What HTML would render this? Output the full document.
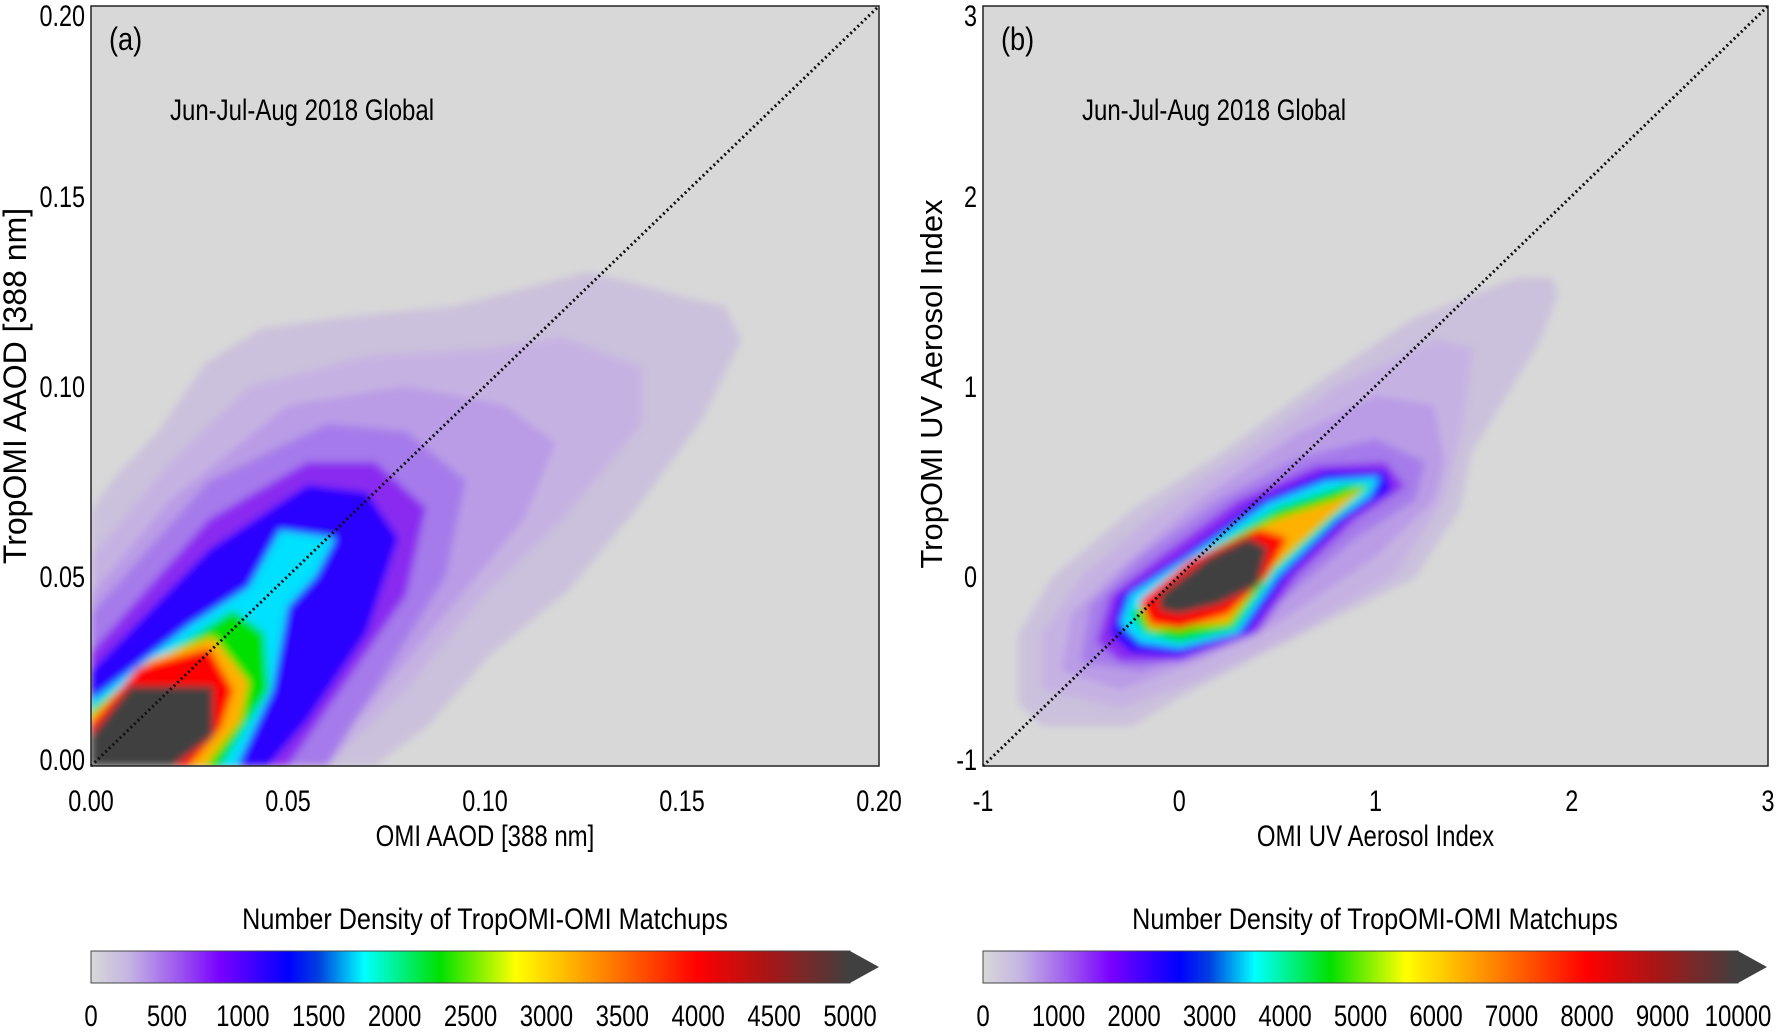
<!DOCTYPE html>
<html><head><meta charset="utf-8"><style>
html,body{margin:0;padding:0;background:#fff;}
svg{display:block;font-family:"Liberation Sans",sans-serif;}
</style></head><body>
<svg id="fig" width="1776" height="1032" viewBox="0 0 1776 1032" xmlns="http://www.w3.org/2000/svg">
<defs>
<filter id="blurA" x="-5%" y="-5%" width="110%" height="110%"><feGaussianBlur stdDeviation="4"/></filter>
<clipPath id="clipA"><rect x="91" y="6" width="788" height="760"/></clipPath>
<clipPath id="clipB"><rect x="983" y="6" width="785" height="760"/></clipPath>
<linearGradient id="cbgrad" x1="0" x2="1" y1="0" y2="0">
<stop offset="0" stop-color="#d8d8d8"/><stop offset="0.05" stop-color="#c4b4e2"/><stop offset="0.12" stop-color="#9a50f0"/><stop offset="0.17" stop-color="#7a00ff"/><stop offset="0.26" stop-color="#0000ff"/><stop offset="0.3" stop-color="#0040e0"/><stop offset="0.36" stop-color="#00ffff"/><stop offset="0.46" stop-color="#00e000"/><stop offset="0.56" stop-color="#ffff00"/><stop offset="0.68" stop-color="#ff8000"/><stop offset="0.8" stop-color="#ff0000"/><stop offset="0.9" stop-color="#a01818"/><stop offset="1" stop-color="#404040"/>
</linearGradient>
</defs>
<g id="root"></g>
</svg>
<script>
const NS="http://www.w3.org/2000/svg";
const levelColors=['#cbc1dc','#c6b2e2','#b99be6','#a57aea','#8a2cf0','#2a00ff','#00e0ff','#00e000','#ffb000','#ff0000','#404040'];
const contoursA=[
[[0,0.067],[0.006,0.076],[0.017,0.088],[0.029,0.106],[0.043,0.115],[0.063,0.118],[0.092,0.121],[0.115,0.127],[0.126,0.130],[0.138,0.127],[0.152,0.123],[0.161,0.121],[0.165,0.112],[0.155,0.091],[0.138,0.067],[0.121,0.046],[0.101,0.029],[0.086,0.011],[0.072,0],[0,0]],
[[0,0.055],[0.02,0.08],[0.04,0.1],[0.07,0.108],[0.1,0.11],[0.12,0.113],[0.14,0.105],[0.14,0.09],[0.12,0.065],[0.1,0.045],[0.08,0.02],[0.06,0],[0,0]],
[[0,0.045],[0.02,0.07],[0.05,0.095],[0.08,0.1],[0.105,0.095],[0.118,0.085],[0.11,0.065],[0.09,0.04],[0.07,0.015],[0.055,0],[0,0]],
[[0,0.04],[0.03,0.075],[0.06,0.09],[0.08,0.088],[0.095,0.075],[0.09,0.05],[0.075,0.025],[0.06,0],[0,0]],
[[0,0.03],[0.03,0.065],[0.055,0.08],[0.072,0.08],[0.085,0.068],[0.08,0.045],[0.06,0.015],[0.05,0],[0,0]],
[[0,0.025],[0.03,0.057],[0.055,0.074],[0.07,0.072],[0.078,0.06],[0.07,0.035],[0.055,0.012],[0.045,0],[0,0]],
[[0,0.017],[0.025,0.037],[0.04,0.047],[0.048,0.062],[0.062,0.06],[0.057,0.05],[0.05,0.042],[0.046,0.02],[0.037,0],[0,0]],
[[0,0.015],[0.02,0.03],[0.036,0.041],[0.044,0.035],[0.045,0.02],[0.033,0],[0,0]],
[[0,0.013],[0.015,0.028],[0.031,0.034],[0.04,0.022],[0.038,0.012],[0.029,0],[0,0]],
[[0,0.011],[0.012,0.026],[0.03,0.031],[0.036,0.02],[0.033,0.01],[0.025,0],[0,0]],
[[0,0.008],[0.01,0.021],[0.031,0.021],[0.031,0.008],[0.021,0],[0,0]]
];
const contoursB=[
[[-0.82,-0.67],[-0.82,-0.31],[-0.65,-0.01],[-0.24,0.35],[0.22,0.65],[0.68,1.0],[1.2,1.36],[1.72,1.57],[1.9,1.57],[1.93,1.48],[1.84,1.24],[1.49,0.65],[1.43,0.35],[1.2,-0.01],[0.62,-0.31],[0.05,-0.61],[-0.24,-0.79],[-0.7,-0.79]],
[[-0.7,-0.6],[-0.7,-0.3],[-0.5,0],[-0.1,0.35],[0.4,0.7],[0.8,1.0],[1.3,1.25],[1.5,1.2],[1.45,0.8],[1.35,0.4],[1.1,0],[0.6,-0.3],[0.1,-0.55],[-0.3,-0.7]],
[[-0.6,-0.5],[-0.55,-0.2],[-0.3,0.05],[0.1,0.4],[0.6,0.75],[1.0,0.95],[1.3,0.9],[1.35,0.6],[1.3,0.4],[1.0,0.1],[0.5,-0.25],[0.1,-0.45],[-0.3,-0.6]],
[[-0.5,-0.45],[-0.45,-0.15],[-0.2,0.1],[0.2,0.4],[0.6,0.62],[1.0,0.72],[1.25,0.6],[1.2,0.4],[0.9,0.2],[0.5,-0.15],[0.1,-0.4],[-0.2,-0.5]],
[[-0.42,-0.35],[-0.35,-0.1],[-0.1,0.1],[0.3,0.4],[0.7,0.58],[1.05,0.6],[1.15,0.47],[0.9,0.3],[0.6,0],[0.4,-0.3],[0.0,-0.45],[-0.3,-0.45]],
[[-0.35,-0.3],[-0.3,-0.1],[0,0.1],[0.4,0.4],[0.75,0.55],[1.05,0.55],[1.08,0.45],[0.85,0.3],[0.55,0],[0.35,-0.3],[0,-0.42],[-0.25,-0.4]],
[[-0.3,-0.25],[-0.25,-0.1],[0.05,0.1],[0.45,0.38],[0.75,0.5],[1.02,0.52],[0.97,0.42],[0.8,0.3],[0.5,0],[0.3,-0.3],[0,-0.38],[-0.2,-0.35]],
[[-0.25,-0.2],[0.1,0.1],[0.5,0.36],[0.85,0.48],[0.98,0.48],[0.8,0.32],[0.48,0.02],[0.28,-0.28],[0,-0.35],[-0.18,-0.3]],
[[-0.2,-0.15],[0.1,0.1],[0.5,0.3],[0.8,0.4],[0.95,0.47],[0.75,0.3],[0.45,0.02],[0.25,-0.25],[-0.15,-0.28]],
[[-0.2,-0.13],[0.05,0.08],[0.4,0.25],[0.55,0.2],[0.45,0],[0.25,-0.2],[0,-0.28],[-0.15,-0.25]],
[[-0.1,-0.1],[0.15,0.1],[0.35,0.2],[0.45,0.15],[0.4,-0.05],[0.2,-0.15],[0,-0.2],[-0.1,-0.18]]
];
const ticksA=['0.00','0.05','0.10','0.15','0.20'];
const ticksAval=[0,0.05,0.1,0.15,0.2];
const ticksB=['-1','0','1','2','3'];
const ticksBval=[-1,0,1,2,3];
const cbLabelsA=['0','500','1000','1500','2000','2500','3000','3500','4000','4500','5000'];
const cbLabelsB=['0','1000','2000','3000','4000','5000','6000','7000','8000','9000','10000'];

const root=document.getElementById('root');
function el(tag,attrs,parent){const e=document.createElementNS(NS,tag);for(const k in attrs)e.setAttribute(k,attrs[k]);(parent||root).appendChild(e);return e;}
function txt(s,x,y,size,anchor,parent,sx){const g=el('g',{transform:`translate(${x},${y}) scale(${sx||0.78},1)`},parent);const t=el('text',{x:0,y:0,'font-size':size,'text-anchor':anchor||'middle',fill:'#000'},g);t.textContent=s;return g;}

function panel(cfg){
  const {x0,x1,y0,y1,min,max,contours,ticks,tickv,label,xtitle,ytitle,name}=cfg;
  const sx=v=>x0+(v-min)/(max-min)*(x1-x0);
  const sy=v=>y1-(v-min)/(max-min)*(y1-y0);
  const g=el('g',{});
  
  
  const bg=el('rect',{x:x0,y:y0,width:x1-x0,height:y1-y0,fill:'#d8d8d8'},g);
  
  
  const cg=el('g',{'clip-path':`url(#${cfg.clip})`},g);
  const bl=el('g',{filter:'url(#blurA)'},cg);
  contours.forEach((poly,i)=>{
    const p=el('polygon',{points:poly.map(q=>sx(q[0]).toFixed(1)+','+sy(q[1]).toFixed(1)).join(' '),fill:levelColors[i]},bl);
    
    
  });
  const d=el('line',{x1:sx(min),y1:sy(min),x2:sx(max),y2:sy(max),stroke:'#111','stroke-width':3,'stroke-dasharray':'2,3'},g);
  
  
  const fr=el('rect',{x:x0,y:y0,width:x1-x0,height:y1-y0,fill:'none',stroke:'#222','stroke-width':1.5},g);
  
  
  ticks.forEach((t,i)=>{
    const a=txt(t,sx(tickv[i]),811,30,'middle',g);
    
    
    let yy=sy(tickv[i])+11; if(i==ticks.length-1) yy=sy(tickv[i])+20; if(i==0) yy=sy(tickv[i])+4;
    const b=txt(t,x0-6,yy,30,'end',g);
    
    
  });
  const pl=txt(label,x0+18,50,32,'start',g,0.85);
  
  
  const st=txt('Jun-Jul-Aug 2018 Global',cfg.subx,120,30,'start',g,0.8);
  
  
  const xt=txt(xtitle,(x0+x1)/2,846,30,'middle',g,0.8);
  
  
  const yg=el('g',{transform:`translate(${cfg.ytx},${(y0+y1)/2+cfg.yoff}) rotate(-90)`},g);
  const yt=el('text',{x:0,y:0,'font-size':cfg.yfs,'text-anchor':'middle'},yg);
  yt.textContent=ytitle;
  
  
}
panel({x0:91,x1:879,y0:6,y1:766,min:0,max:0.2,contours:contoursA,ticks:ticksA,tickv:ticksAval,label:'(a)',xtitle:'OMI AAOD [388 nm]',ytitle:'TropOMI AAOD [388 nm]',name:'panel-a',clip:'clipA',subx:170,ytx:26,yoff:0,yfs:32});
panel({x0:983,x1:1768,y0:6,y1:766,min:-1,max:3,contours:contoursB,ticks:ticksB,tickv:ticksBval,label:'(b)',xtitle:'OMI UV Aerosol Index',ytitle:'TropOMI UV Aerosol Index',name:'panel-b',clip:'clipB',subx:1082,ytx:942,yoff:-2,yfs:31});

function colorbar(x0,x1,labels,name){
  const g=el('g',{});
  
  
  const r=el('rect',{x:x0,y:951,width:x1-x0,height:32,fill:'url(#cbgrad)',stroke:'#444','stroke-width':1},g);
  
  
  const a=el('polygon',{points:`${x1},951 ${x1+29},967 ${x1},983`,fill:'#404040'},g);
  
  
  const t=txt('Number Density of TropOMI-OMI Matchups',(x0+x1+29)/2,929,30,'middle',g,0.84);
  
  
  labels.forEach((s,i)=>{
    const l=txt(s,x0+i*(x1-x0)/(labels.length-1),1026,30,'middle',g,0.8);
    
    
  });
}
colorbar(91,850,cbLabelsA,'colorbar-a');
colorbar(983,1738,cbLabelsB,'colorbar-b');
</script>
</body></html>
